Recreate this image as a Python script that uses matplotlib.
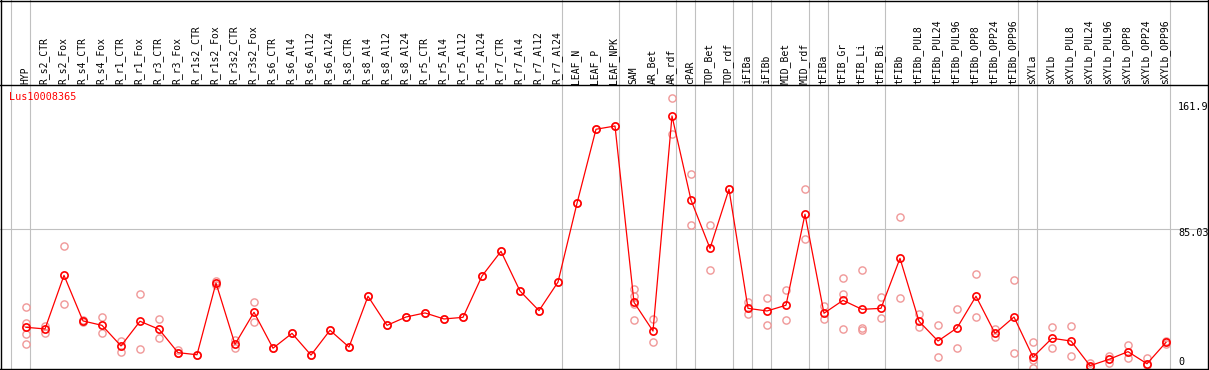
import matplotlib
matplotlib.use("Agg")
import matplotlib.pyplot as plt
from matplotlib.lines import Line2D

# ---------------- data ----------------
title = "Lus10008365"

categories = [
    "HYP", "R_s2_CTR", "R_s2_Fox", "R_s4_CTR", "R_s4_Fox", "R_r1_CTR", "R_r1_Fox",
    "R_r3_CTR", "R_r3_Fox", "R_r1s2_CTR", "R_r1s2_Fox", "R_r3s2_CTR", "R_r3s2_Fox",
    "R_s6_CTR", "R_s6_Al4", "R_s6_Al12", "R_s6_Al24", "R_s8_CTR", "R_s8_Al4",
    "R_s8_Al12", "R_s8_Al24", "R_r5_CTR", "R_r5_Al4", "R_r5_Al12", "R_r5_Al24",
    "R_r7_CTR", "R_r7_Al4", "R_r7_Al12", "R_r7_Al24", "LEAF_N", "LEAF_P", "LEAF_NPK",
    "SAM", "AR_Bet", "AR_rdf", "cPAR", "TOP_Bet", "TOP_rdf", "iFIBa", "iFIBb",
    "MID_Bet", "MID_rdf", "tFIBa", "tFIB_Gr", "tFIB_Li", "tFIB_Bi", "tFIBb",
    "tFIBb_PUL8", "tFIBb_PUL24", "tFIBb_PUL96", "tFIBb_OPP8", "tFIBb_OPP24",
    "tFIBb_OPP96", "sXYLa", "sXYLb", "sXYLb_PUL8", "sXYLb_PUL24", "sXYLb_PUL96",
    "sXYLb_OPP8", "sXYLb_OPP24", "sXYLb_OPP96",
]

means = [
    24.6, 23.6, 56.4, 28.5, 25.8, 13.2, 28.3, 23.4, 9.1, 7.8, 51.7, 14.2, 33.8,
    11.8, 20.9, 7.6, 22.8, 12.5, 43.6, 25.8, 30.9, 33.4, 29.7, 30.7, 56.0, 71.1,
    46.8, 34.8, 52.3, 100.5, 145.8, 147.8, 39.9, 22.3, 153.9, 102.5, 72.9, 109.1,
    36.2, 34.6, 38.1, 93.8, 33.2, 41.1, 35.6, 36.2, 66.8, 28.3, 16.2, 24.2, 43.6,
    20.9, 30.9, 6.4, 17.9, 16.2, 1.1, 5.0, 9.7, 2.3, 15.4,
]

replicates = [
    [36.8, 27.0, 20.3, 14.2], [25.6, 20.9], [74.4, 38.9], [29.1, 27.8], [30.7, 20.9],
    [16.2, 9.7], [44.8, 11.1], [29.7, 17.9], [10.7, 8.7], [7.8], [52.8, 50.6],
    [16.8, 11.8], [39.9, 28.0], [11.8], [20.9], [7.6], [22.8], [12.5], [43.6],
    [25.8], [30.9], [33.4], [29.7], [30.7], [56.0], [71.1], [46.8], [34.8], [52.3],
    [100.5], [145.8], [147.8], [48.0, 43.8, 38.9, 29.1], [29.7, 15.4], [164.7, 142.9],
    [118.2, 87.0], [87.0, 59.5], [109.1], [40.3, 32.6], [42.4, 25.8], [47.2, 29.1],
    [109.1, 78.5], [37.8, 29.5], [54.6, 45.0, 23.6], [59.5, 24.0, 22.9], [43.0, 30.3],
    [92.1, 42.4], [32.7, 24.6], [25.8, 6.4], [35.8, 11.9], [57.2, 30.7], [23.4, 18.8],
    [53.5, 8.9], [15.6, 4.6, 0.0], [24.6, 11.9], [25.2, 7.0], [2.9, 0.5], [7.0, 2.9],
    [13.6, 5.8], [5.6, 1.5], [16.4, 14.4],
]

# index of the last category of each group (separators drawn after them)
group_ends = [-1, 0, 28, 31, 34, 35, 37, 38, 39, 41, 42, 45, 52, 53, 60]

axis_labels = ["161.9", "85.03", "0"]
mid_value = 85.03

# ---------------- layout ----------------
W, H = 1209, 370
fig = plt.figure(figsize=(W / 100, H / 100), dpi=100)
fig.patch.set_facecolor("white")

def fx(px):
    return px / W

def fy(py):
    return 1 - py / H

# plot area in pixels
L, R, T, B = 1, 1171, 85, 369
ax = fig.add_axes([fx(L), fy(B), fx(R) - fx(L), fy(T) - fy(B)])
ax.set_facecolor("none")
for s in ax.spines.values():
    s.set_visible(False)
ax.set_xticks([])
ax.set_yticks([])

step = 19.0
x0 = 26.0
ax.set_xlim((L - x0) / step, (R - x0) / step)
y0pix, slope = 367.5, 1.634
ax.set_ylim((y0pix - B) / slope, (y0pix - T) / slope)

grid_c = "#c0c0c0"
xt = ax.get_xaxis_transform()
yt = ax.get_yaxis_transform()
top_frac = (B - 0) / (B - T)
for g in group_ends:
    xg = g + 4.0 / step
    ax.plot([xg, xg], [0, top_frac], transform=xt, color=grid_c, lw=0.8,
            clip_on=False, zorder=1)
# horizontal grid line across the full width
ax.plot([(0 - L) / (R - L), (W - L) / (R - L)], [mid_value, mid_value],
        transform=yt, color=grid_c, lw=0.8, clip_on=False, zorder=1)

xs = list(range(len(categories)))

# replicates
rx, ry = [], []
for i, reps in enumerate(replicates):
    for v in reps:
        rx.append(i)
        ry.append(v)
ax.plot(rx, ry, linestyle="none", marker="o", markersize=5.2, mfc="none",
        mec="#f09898", mew=1.0, clip_on=False, zorder=2)

# mean line and markers
ax.plot(xs, means, color="#ff0000", lw=0.9, zorder=3, clip_on=False)
ax.plot(xs, means, linestyle="none", marker="o", markersize=5.2, mfc="none",
        mec="#ff0000", mew=1.2, zorder=4, clip_on=False)

# category labels (vertical)
lab_frac = (B - 83.5) / (B - T)
for i, c in enumerate(categories):
    ax.text(i - 1.0 / step, lab_frac, c, transform=xt, rotation=90,
            ha="center", va="bottom", fontsize=7, family="DejaVu Sans Mono",
            color="black", clip_on=False)

# title
fig.text(fx(9), fy(97), title, color="#ff0000", fontsize=7.3,
         family="DejaVu Sans Mono", ha="left", va="center")

# right-hand value labels
for lab, ypix in zip(axis_labels, [107, 232.5, 362]):
    fig.text(fx(1178), fy(ypix), lab, color="black", fontsize=7.3,
             family="DejaVu Sans Mono", ha="left", va="center")

# frame lines
def fline(xa, ya, xb, yb):
    fig.add_artist(Line2D([fx(xa), fx(xb)], [fy(ya), fy(yb)], color="black",
                          lw=1.0, transform=fig.transFigure))

fline(0, 0.5, W, 0.5)
fline(0, 85, W, 85)
fline(1, 0, 1, H)
fline(W - 1, 0, W - 1, H)
fline(0, 369, W, 369)

fig.savefig("out.png", dpi=100, facecolor="white")
